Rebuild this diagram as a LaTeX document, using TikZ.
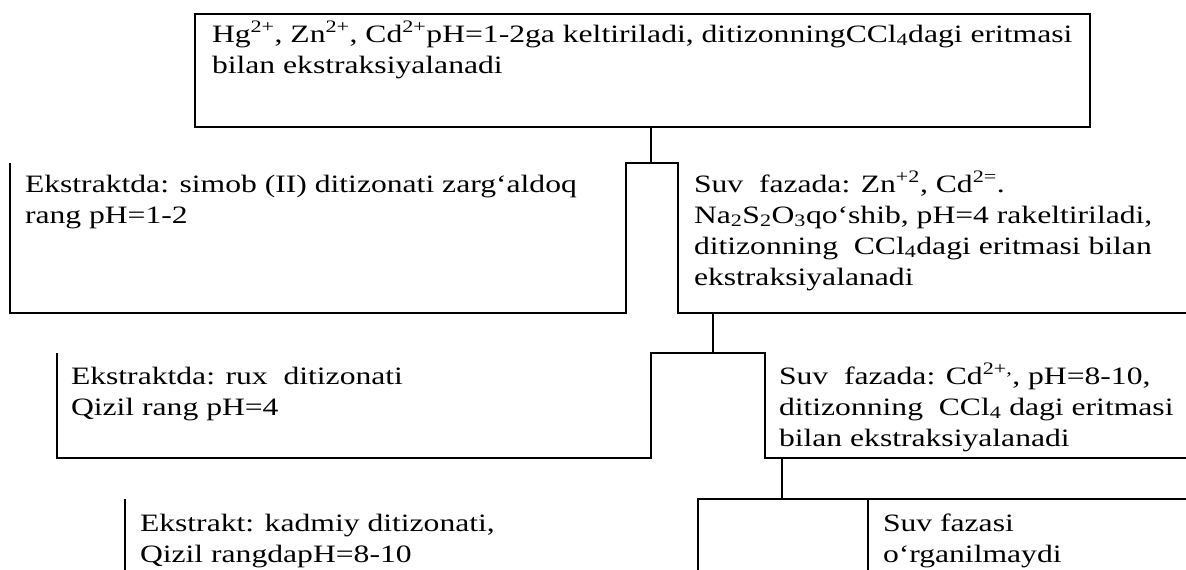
\documentclass[tikz,border=0pt]{standalone}
\usepackage{fontspec}
\setmainfont{Liberation Serif}[FakeStretch=1.265]
\newcommand\sps[1]{\textsuperscript{#1}}
\newcommand\sbs[1]{\textsubscript{#1}}
% a block of lines whose reference point is the baseline of the first line
\newcommand\blk[1]{\vtop{\baselineskip=31pt\lineskiplimit=-100pt\lineskip=0pt #1}}
\begin{document}
\begin{tikzpicture}[x=1pt,y=-1pt,
  frame/.style={line width=2pt},
  txt/.style={anchor=base west,inner sep=0pt,outer sep=0pt,
              font=\fontsize{25}{31}\selectfont}]
\useasboundingbox (0,0) rectangle (1186,570);

% first box: the starting solution
\node[frame,draw,anchor=north west,minimum width=895pt,minimum height=113pt,
      inner sep=0pt,outer sep=0pt] (topbox) at (195,14) {};
\node[txt] (t0) at (212,42) {\blk{%
  \hbox{Hg\sps{2+}, Zn\sps{2+}, Cd\sps{2+}pH=1-2ga keltiriladi, ditizonningCCl\sbs{4}dagi eritmasi}
  \hbox{bilan ekstraksiyalanadi}}};

% first split
\coordinate (j1) at (651,163);
\coordinate (l1a) at (10,163);  \coordinate (l1b) at (626,313);
\coordinate (r1a) at (678,163); \coordinate (r1b) at (1186,313);
\draw[frame] (topbox.south -| j1) -- (j1);
\draw[frame] (l1a) |- (l1b) |- (r1a) |- (r1b);
\node[txt] (t1) at (25,192) {\blk{%
  \hbox{Ekstraktda: simob (II) ditizonati zarg‘aldoq}
  \hbox{rang pH=1-2}}};
\node[txt] (t2) at (694,192) {\blk{%
  \hbox{Suv~ fazada: Zn\sps{+2}, Cd\sps{2=}.}
  \hbox{Na\sbs{2}S\sbs{2}O\sbs{3}qo‘shib, pH=4 rakeltiriladi,}
  \hbox{ditizonning~ CCl\sbs{4}dagi eritmasi bilan}
  \hbox{ekstraksiyalanadi}}};

% second split
\coordinate (j2) at (713,353);
\coordinate (l2a) at (57,353);  \coordinate (l2b) at (651,458);
\coordinate (r2a) at (765,353); \coordinate (r2b) at (1186,458);
\draw[frame] (j2 |- r1b) -- (j2);
\draw[frame] (l2a) |- (l2b) |- (r2a) |- (r2b);
\node[txt] (t3) at (71,384) {\blk{%
  \hbox{Ekstraktda: rux~ ditizonati}
  \hbox{Qizil rang pH=4}}};
\node[txt] (t4) at (779,384) {\blk{%
  \hbox{Suv~ fazada: Cd\sps{2+,}, pH=8-10,}
  \hbox{ditizonning~ CCl\sbs{4} dagi eritmasi}
  \hbox{bilan ekstraksiyalanadi}}};

% third split
\coordinate (j3) at (782,499);
\coordinate (l3a) at (125,499); \coordinate (l3b) at (125,572);
\coordinate (m3a) at (698,572); \coordinate (m3b) at (1186,499);
\coordinate (m3c) at (868,499); \coordinate (m3d) at (868,572);
\draw[frame] (j3 |- r2b) -- (j3);
\draw[frame] (l3a) -- (l3b);
\draw[frame] (m3a) |- (m3b);
\draw[frame] (m3c) -- (m3d);
\node[txt] (t5) at (140,531) {\blk{%
  \hbox{Ekstrakt: kadmiy ditizonati,}
  \hbox{Qizil rangdapH=8-10}}};
\node[txt] (t6) at (883,531) {\blk{%
  \hbox{Suv fazasi}
  \hbox{o‘rganilmaydi}}};
\end{tikzpicture}
\end{document}
